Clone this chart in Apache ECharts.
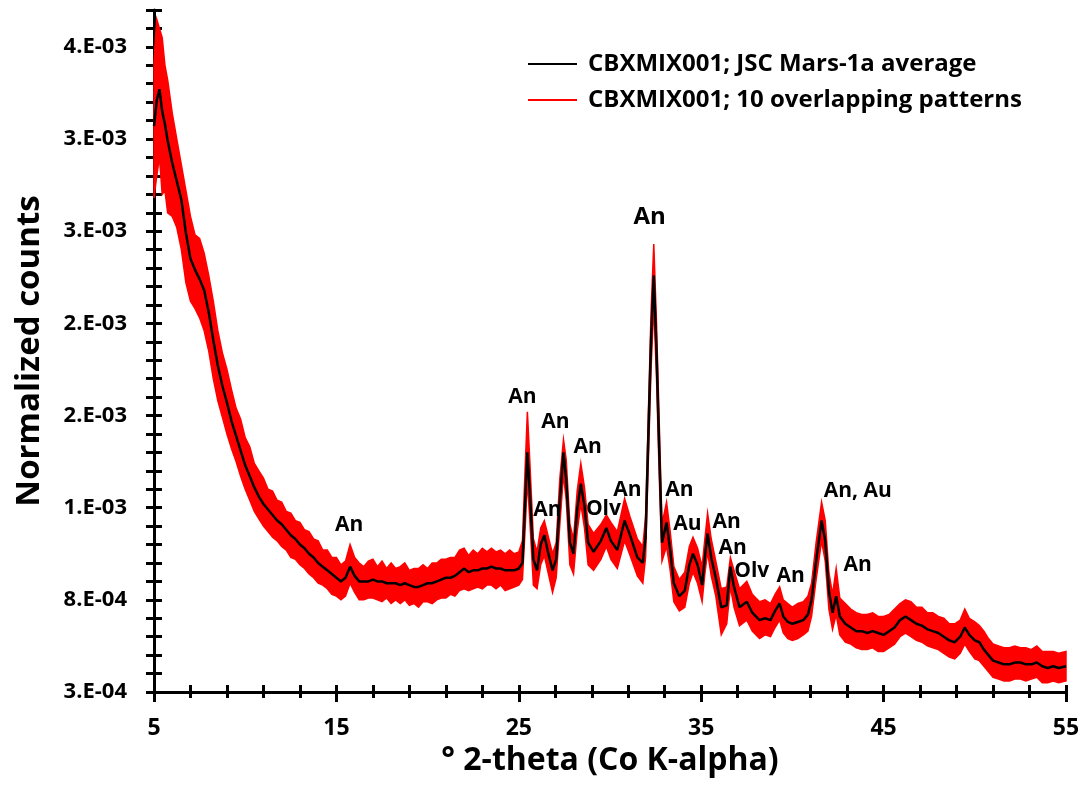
<!DOCTYPE html>
<html>
<head>
<meta charset="utf-8">
<script src="https://cdn.jsdelivr.net/npm/echarts@6/dist/echarts.min.js"></script>
<style>
  html, body { margin: 0; padding: 0; background: #fff; }
  #chart { width: 1088px; height: 786px; }
</style>
</head>
<body>
<div id="chart"></div>
<script>
// 2-theta positions (deg)
var twoTheta = [
  5.0, 5.15, 5.3, 5.45, 5.6, 5.75, 6.0, 6.25, 6.5, 6.75,
  7.0, 7.25, 7.5, 7.75, 8.0, 8.25, 8.5, 8.75, 9.0, 9.25,
  9.5, 9.75, 10.0, 10.25, 10.5, 10.75, 11.0, 11.25, 11.5, 11.75,
  12.0, 12.25, 12.5, 12.75, 13.0, 13.25, 13.5, 13.75, 14.0, 14.25,
  14.5, 14.75, 15.0, 15.25, 15.5, 15.75, 16.0, 16.25, 16.5, 16.75,
  17.0, 17.25, 17.5, 17.75, 18.0, 18.25, 18.5, 18.75, 19.0, 19.25,
  19.5, 19.75, 20.0, 20.25, 20.5, 20.75, 21.0, 21.25, 21.5, 21.75,
  22.0, 22.25, 22.5, 22.75, 23.0, 23.25, 23.5, 23.75, 24.0, 24.25,
  24.5, 24.75, 25.0, 25.2, 25.35, 25.47, 25.6, 25.8, 26.0, 26.2,
  26.4, 26.6, 26.85, 27.05, 27.25, 27.45, 27.6, 27.8, 28.0, 28.2,
  28.4, 28.6, 28.8, 29.1, 29.5, 29.8, 30.05, 30.4, 30.8, 31.1,
  31.5, 31.8, 31.95, 32.1, 32.25, 32.4, 32.55, 32.7, 32.85, 33.1,
  33.3, 33.5, 33.8, 34.1, 34.35, 34.55, 34.8, 35.05, 35.2, 35.35,
  35.55, 35.8, 36.1, 36.4, 36.6, 36.8, 37.1, 37.5, 37.8, 38.2,
  38.5, 38.8, 39.05, 39.3, 39.5, 39.75, 40.0, 40.3, 40.6, 40.85,
  41.05, 41.3, 41.6, 41.8, 42.0, 42.2, 42.4, 42.6, 42.9, 43.2,
  43.5, 43.8, 44.1, 44.4, 44.7, 45.0, 45.3, 45.6, 45.9, 46.2,
  46.5, 46.8, 47.1, 47.4, 47.7, 48.0, 48.3, 48.6, 48.9, 49.2,
  49.45, 49.7, 50.0, 50.25, 50.5, 50.75, 51.0, 51.3, 51.6, 51.9,
  52.2, 52.5, 52.8, 53.1, 53.4, 53.7, 54.0, 54.3, 54.6, 55.0
];

// average pattern, normalized counts x 1e-3
var avgCounts = [
  3.37, 3.51, 3.57, 3.45, 3.38, 3.29, 3.17, 3.07, 2.97, 2.79,
  2.65, 2.59, 2.54, 2.48, 2.36, 2.21, 2.07, 1.96, 1.87, 1.77,
  1.69, 1.61, 1.53, 1.47, 1.41, 1.36, 1.32, 1.29, 1.26, 1.23,
  1.21, 1.18, 1.15, 1.13, 1.10, 1.08, 1.05, 1.03, 1.00, 0.98,
  0.96, 0.94, 0.92, 0.90, 0.92, 0.98, 0.93, 0.90, 0.90, 0.90,
  0.91, 0.90, 0.90, 0.89, 0.89, 0.89, 0.88, 0.89, 0.88, 0.87,
  0.87, 0.88, 0.89, 0.89, 0.90, 0.91, 0.92, 0.92, 0.93, 0.95,
  0.97, 0.95, 0.96, 0.96, 0.97, 0.97, 0.98, 0.97, 0.97, 0.96,
  0.96, 0.96, 0.97, 1.00, 1.34, 1.60, 1.39, 1.02, 0.96, 1.10,
  1.15, 1.06, 0.96, 1.02, 1.34, 1.60, 1.45, 1.11, 1.05, 1.29,
  1.43, 1.31, 1.11, 1.06, 1.12, 1.19, 1.12, 1.07, 1.23, 1.15,
  1.03, 1.00, 1.14, 1.68, 2.21, 2.56, 2.15, 1.61, 1.11, 1.22,
  1.07, 0.89, 0.82, 0.85, 0.99, 1.05, 0.99, 0.88, 1.03, 1.16,
  1.03, 0.92, 0.76, 0.77, 0.98, 0.87, 0.76, 0.79, 0.73, 0.69,
  0.70, 0.69, 0.74, 0.78, 0.71, 0.68, 0.67, 0.68, 0.69, 0.72,
  0.80, 1.01, 1.23, 1.12, 0.85, 0.73, 0.82, 0.71, 0.67, 0.65,
  0.63, 0.63, 0.62, 0.63, 0.62, 0.61, 0.63, 0.65, 0.69, 0.71,
  0.69, 0.67, 0.66, 0.64, 0.63, 0.62, 0.60, 0.58, 0.57, 0.60,
  0.65, 0.61, 0.58, 0.57, 0.53, 0.50, 0.47, 0.46, 0.45, 0.45,
  0.46, 0.46, 0.45, 0.45, 0.46, 0.44, 0.43, 0.44, 0.43, 0.44
];

// upper edge of the 10 overlapping patterns (x 1e-3)
var bandHigh = [
  3.72, 3.95, 3.90, 3.85, 3.70, 3.62, 3.44, 3.30, 3.16, 3.02,
  2.88, 2.78, 2.76, 2.68, 2.56, 2.42, 2.26, 2.14, 2.05, 1.94,
  1.84, 1.78, 1.68, 1.63, 1.54, 1.50, 1.46, 1.40, 1.39, 1.34,
  1.33, 1.28, 1.27, 1.23, 1.22, 1.18, 1.17, 1.13, 1.12, 1.07,
  1.07, 1.03, 1.03, 0.99, 1.01, 1.10, 1.03, 1.00, 0.98, 1.01,
  1.02, 0.98, 1.01, 0.97, 1.00, 0.97, 0.98, 1.00, 0.96, 0.97,
  0.97, 0.99, 0.97, 1.00, 1.00, 1.02, 1.02, 1.03, 1.03, 1.07,
  1.08, 1.04, 1.07, 1.05, 1.08, 1.06, 1.08, 1.06, 1.07, 1.05,
  1.07, 1.05, 1.06, 1.12, 1.52, 1.82, 1.56, 1.13, 1.06, 1.19,
  1.23, 1.15, 1.05, 1.11, 1.46, 1.67, 1.56, 1.21, 1.13, 1.39,
  1.54, 1.41, 1.21, 1.16, 1.21, 1.26, 1.22, 1.17, 1.35, 1.25,
  1.13, 1.09, 1.25, 1.80, 2.36, 2.73, 2.30, 1.76, 1.21, 1.33,
  1.17, 0.98, 0.91, 0.95, 1.09, 1.14, 1.08, 0.98, 1.13, 1.27,
  1.13, 1.01, 0.86, 0.87, 1.03, 0.96, 0.86, 0.90, 0.83, 0.79,
  0.80, 0.78, 0.83, 0.87, 0.80, 0.78, 0.76, 0.78, 0.79, 0.82,
  0.89, 1.11, 1.33, 1.23, 0.95, 0.83, 0.97, 0.81, 0.78, 0.75,
  0.73, 0.72, 0.72, 0.73, 0.71, 0.71, 0.72, 0.75, 0.78, 0.80,
  0.79, 0.76, 0.76, 0.73, 0.73, 0.71, 0.70, 0.67, 0.67, 0.69,
  0.75, 0.70, 0.68, 0.66, 0.63, 0.59, 0.56, 0.55, 0.54, 0.54,
  0.55, 0.54, 0.54, 0.53, 0.55, 0.52, 0.52, 0.52, 0.51, 0.52
];

// lower edge of the 10 overlapping patterns (x 1e-3)
var bandLow = [
  2.98, 3.10, 3.20, 3.00, 3.02, 2.90, 2.88, 2.82, 2.70, 2.52,
  2.42, 2.38, 2.33, 2.26, 2.15, 2.00, 1.88, 1.79, 1.70, 1.62,
  1.55, 1.47, 1.40, 1.34, 1.28, 1.24, 1.20, 1.17, 1.14, 1.12,
  1.09, 1.07, 1.03, 1.02, 0.99, 0.97, 0.94, 0.92, 0.89, 0.88,
  0.86, 0.83, 0.82, 0.80, 0.82, 0.89, 0.84, 0.80, 0.80, 0.81,
  0.81, 0.80, 0.79, 0.81, 0.78, 0.80, 0.78, 0.80, 0.77, 0.78,
  0.76, 0.79, 0.79, 0.78, 0.80, 0.81, 0.81, 0.83, 0.82, 0.85,
  0.86, 0.85, 0.86, 0.87, 0.86, 0.88, 0.88, 0.86, 0.88, 0.85,
  0.86, 0.87, 0.88, 0.91, 1.19, 1.45, 1.24, 0.88, 0.86, 0.99,
  1.04, 0.95, 0.84, 0.92, 1.21, 1.48, 1.34, 0.99, 0.94, 1.17,
  1.32, 1.19, 0.99, 0.96, 1.02, 1.09, 1.02, 0.97, 1.12, 1.04,
  0.93, 0.89, 1.03, 1.55, 2.05, 2.40, 2.00, 1.47, 1.01, 1.09,
  0.96, 0.79, 0.74, 0.76, 0.89, 0.95, 0.89, 0.79, 0.94, 1.06,
  0.93, 0.82, 0.61, 0.67, 0.87, 0.76, 0.66, 0.69, 0.63, 0.59,
  0.61, 0.60, 0.65, 0.69, 0.62, 0.59, 0.58, 0.59, 0.61, 0.63,
  0.71, 0.91, 1.12, 1.01, 0.75, 0.64, 0.72, 0.61, 0.57, 0.56,
  0.54, 0.53, 0.53, 0.54, 0.52, 0.52, 0.54, 0.56, 0.60, 0.62,
  0.60, 0.58, 0.57, 0.55, 0.54, 0.53, 0.51, 0.49, 0.48, 0.51,
  0.56, 0.52, 0.48, 0.47, 0.44, 0.41, 0.38, 0.37, 0.36, 0.36,
  0.37, 0.37, 0.36, 0.37, 0.38, 0.35, 0.35, 0.36, 0.35, 0.36
];

var yTickLabels = ["3.E-04", "8.E-04", "1.E-03", "2.E-03", "2.E-03", "3.E-03", "3.E-03", "4.E-03"];

// phase labels: [2-theta, counts x 1e-3, text]
var peakLabels = [
  [15.70, 1.205, "An"], [25.20, 1.903, "An"], [27.01, 1.763, "An"], [28.77, 1.627, "An"],
  [26.57, 1.286, "An"], [29.64, 1.291, "Olv"], [30.96, 1.394, "An"], [32.17, 2.878, "An"],
  [33.81, 1.394, "An"], [34.25, 1.210, "Au"], [36.39, 1.221, "An"], [36.72, 1.080, "An"],
  [37.77, 0.955, "Olv"], [39.91, 0.928, "An"], [43.58, 1.389, "An, Au"], [43.58, 0.988, "An"]
];

var avgName = "CBXMIX001; JSC Mars-1a average";
var bandName = "CBXMIX001; 10 overlapping patterns";
var FONT = "Open Sans";

var chartDom = document.getElementById("chart");
var myChart = echarts.init(chartDom);

function yLabel(v) {
  var k = (v - 0.3) / 0.5;
  var i = Math.round(k);
  if (Math.abs(k - i) > 1e-6 || i < 0 || i >= yTickLabels.length) return "";
  return yTickLabels[i];
}

// red envelope drawn as one polygon: upper edge forward, lower edge back
function renderBand(params, api) {
  if (params.dataIndex !== 0) return null;
  var pts = [];
  for (var i = 0; i < twoTheta.length; i++) pts.push(api.coord([twoTheta[i], bandHigh[i]]));
  for (var j = twoTheta.length - 1; j >= 0; j--) pts.push(api.coord([twoTheta[j], bandLow[j]]));
  return {
    type: "polygon",
    shape: { points: pts },
    style: { fill: "#ff0000", stroke: "#ff0000", lineWidth: 1.5, lineJoin: "miter" }
  };
}

var tickStyle = { color: "#000", width: 3 };

var option = {
  animation: false,
  grid: { left: 154, right: 22, top: 10, bottom: 94 },
  legend: {
    orient: "vertical",
    left: 523,
    top: 43,
    icon: "rect",
    itemWidth: 49,
    itemHeight: 2,
    itemGap: 4,
    data: [avgName, bandName],
    textStyle: { fontFamily: FONT, fontWeight: "bold", fontSize: 24, lineHeight: 32, color: "#000", padding: [0, 0, 0, 6] }
  },
  xAxis: [
    {
      type: "value", min: 5, max: 55, interval: 10,
      name: "° 2-theta (Co K-alpha)", nameLocation: "middle", nameGap: 46,
      nameTextStyle: { fontFamily: FONT, fontWeight: "bold", fontSize: 32, color: "#000" },
      axisLine: { show: true, onZero: false, lineStyle: { color: "#000", width: 3 } },
      axisTick: { show: true, length: 10, lineStyle: tickStyle },
      minorTick: { show: true, splitNumber: 5, length: 6, lineStyle: tickStyle },
      axisLabel: { margin: 25, fontFamily: FONT, fontWeight: "bold", fontSize: 23, color: "#000" },
      splitLine: { show: false }
    },
    {
      type: "value", min: 5, max: 55, interval: 10, position: "bottom",
      axisLine: { show: false },
      axisTick: { show: true, inside: true, length: 7, lineStyle: tickStyle },
      minorTick: { show: true, splitNumber: 5, length: 7, lineStyle: tickStyle },
      axisLabel: { show: false },
      splitLine: { show: false }
    }
  ],
  yAxis: [
    {
      type: "value", min: 0.3, max: 4.0, interval: 0.1, position: "left",
      name: "Normalized counts", nameLocation: "middle", nameGap: 108,
      nameTextStyle: { fontFamily: FONT, fontWeight: "bold", fontSize: 33, color: "#000" },
      axisLine: { show: true, onZero: false, lineStyle: { color: "#000", width: 3 } },
      axisTick: { show: true, length: 8, lineStyle: tickStyle },
      axisLabel: { margin: 27, formatter: yLabel, fontFamily: FONT, fontWeight: "bold", fontSize: 22, color: "#000" },
      splitLine: { show: false }
    },
    {
      type: "value", min: 0.3, max: 4.0, interval: 0.1, position: "left", offset: 0,
      axisLine: { show: false },
      axisTick: { show: true, inside: true, length: 8, lineStyle: tickStyle },
      axisLabel: { show: false },
      splitLine: { show: false }
    }
  ],
  series: [
    {
      name: bandName, type: "custom", silent: true, z: 1,
      itemStyle: { color: "#ff0000" },
      renderItem: renderBand,
      encode: { x: 0, y: [1, 2] },
      data: twoTheta.map(function (x, i) { return [x, bandLow[i], bandHigh[i]]; })
    },
    {
      name: avgName, type: "line", symbol: "none", silent: true, z: 3,
      lineStyle: { color: "#000", width: 2.5 },
      itemStyle: { color: "#000" },
      data: twoTheta.map(function (x, i) { return [x, avgCounts[i]]; })
    },
    {
      name: "labels", type: "scatter", symbolSize: 1, silent: true, z: 5,
      itemStyle: { color: "rgba(0,0,0,0)", opacity: 1 },
      label: {
        show: true, position: "inside", opacity: 1,
        fontFamily: FONT, fontWeight: "bold", fontSize: 21, color: "#000"
      },
      data: peakLabels.map(function (p) {
        return {
          value: [p[0], p[1]],
          label: { formatter: p[2], fontSize: p[1] > 2.5 ? 24 : 21 }
        };
      })
    }
  ]
};

myChart.setOption(option);
window.addEventListener("resize", function () {
  myChart.resize();
});
</script>
</body>
</html>
